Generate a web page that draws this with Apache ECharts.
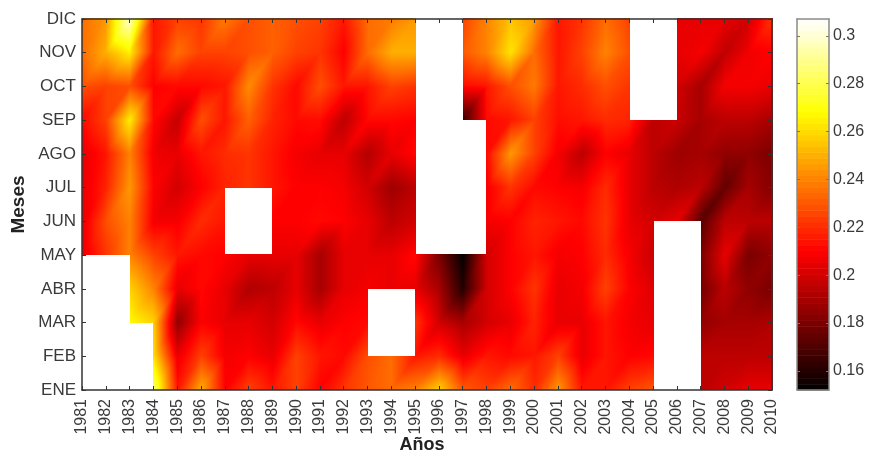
<!DOCTYPE html>
<html><head><meta charset="utf-8">
<style>html,body{margin:0;padding:0;background:#fff}#c{width:869px;height:452px}</style>
<script src="https://cdn.jsdelivr.net/npm/echarts@6/dist/echarts.min.js"></script>
</head><body><div id="c"></div>
<script>
const years = [1981,1982,1983,1984,1985,1986,1987,1988,1989,1990,1991,1992,1993,1994,1995,1996,1997,1998,1999,2000,2001,2002,2003,2004,2005,2006,2007,2008,2009,2010];
const months = ['ENE','FEB','MAR','ABR','MAY','JUN','JUL','AGO','SEP','OCT','NOV','DIC'];
const colorTicks = [0.16,0.18,0.2,0.22,0.24,0.26,0.28,0.3];
const N = null;
const ENE = [N,N,N,.285,.215,.250,.210,.225,.215,.225,.210,.222,.230,.235,.240,.258,.230,.225,.235,.220,.245,.215,.215,.225,.230,.200,.195,.200,.205,.205];
const FEB = [N,N,N,.262,.205,.225,.208,.210,.205,.225,.215,.212,.228,.235,.215,.220,.205,.215,.212,.215,.225,.205,.215,.210,.212,N,.195,.195,.195,.195];
const MAR = [N,N,.268,.258,.185,.210,.205,.205,.200,.212,.205,.210,.212,N,.222,.200,.190,.200,.205,.218,.205,.205,.215,.208,.205,N,.185,.190,.190,.192];
const ABR = [N,N,.258,.240,.205,.212,.205,.192,.195,.205,.190,.205,.208,.205,.205,.190,.160,.200,.210,.222,.205,.208,.225,.210,.203,N,.178,.195,.185,.180];
const MAY = [.205,.222,.240,.225,.215,.212,.210,.205,.205,.205,.190,.205,.205,.205,.212,.180,.152,.200,.210,.215,.208,.210,.220,.208,.198,N,.180,.205,.180,.185];
const JUN = [.205,.228,.240,.208,.208,.220,.215,N,.210,.210,.212,.210,.205,.195,.200,N,N,.208,.210,.218,.215,.212,.222,.205,.200,.205,.172,.195,.195,.195];
const JUL = [.205,.218,.245,.210,.200,.210,.218,.222,.215,.210,.210,.208,.200,.188,.195,N,N,.208,.222,.212,.210,.208,.220,.205,.195,.192,.195,.175,.190,.182];
const AGO = [.205,.215,.240,.207,.205,.215,.220,.222,.215,.208,.205,.205,.193,.205,.212,N,N,.212,.245,.225,.208,.195,.210,.205,.195,.188,.190,.185,.185,.180];
const SEP = [.212,.225,.265,.212,.197,.228,.215,.232,.218,.212,.213,.195,.212,.212,.210,N,.165,.212,.215,.225,.213,.215,.220,.218,.195,.198,.190,.195,.195,.190];
const OCT = [.228,.225,.228,.210,.212,.212,.215,.242,.222,.212,.228,.215,.215,.225,.222,N,.212,.215,.228,.238,.215,.220,.228,.222,N,.200,.190,.208,.208,.205];
const NOV = [.235,.250,.265,.215,.235,.225,.225,.228,.232,.225,.222,.210,.235,.250,.250,N,.230,.240,.262,.235,.215,.225,.240,.228,N,.205,.208,.196,.207,.210];
const DIC = [.235,.245,.300,.215,.225,.222,.238,.228,.232,.228,.225,.215,.235,.238,.245,.240,.225,.240,.255,.245,.215,.222,.235,.225,.220,.205,.205,.205,.200,.222];
const rows = [ENE,FEB,MAR,ABR,MAY,JUN,JUL,AGO,SEP,OCT,NOV,DIC];
const vMin = 0.152, vMax = 0.307, levels = 64;

function hot(v){
  const t = Math.max(0, Math.min(1, (v - vMin) / (vMax - vMin)));
  const c = x => Math.round(255 * Math.max(0, Math.min(1, x)));
  return [c(t / 0.375), c((t - 0.375) / 0.375), c((t - 0.75) / 0.25)];
}
const quads = [];
for (let j = 0; j < months.length - 1; j++) for (let i = 0; i < years.length - 1; i++) {
  const a = rows[j][i], b = rows[j][i+1], c = rows[j+1][i], d = rows[j+1][i+1];
  if (a !== N && b !== N && c !== N && d !== N) quads.push([i, j, a, b, c, d]);
}
function quadItem(params, api){
  const i = api.value(0), j = api.value(1);
  const z00 = api.value(2), z10 = api.value(3), z01 = api.value(4), z11 = api.value(5);
  const p0 = api.coord([i, j]), p1 = api.coord([i + 1, j + 1]);
  const w = p1[0] - p0[0], h = p0[1] - p1[1];
  const W = Math.ceil(w) + 1, H = Math.ceil(h) + 1;
  const cv = document.createElement('canvas'); cv.width = W; cv.height = H;
  const ctx = cv.getContext('2d'), im = ctx.createImageData(W, H);
  for (let y = 0; y < H; y++) for (let x = 0; x < W; x++) {
    const u = (x + 0.5) / W, s = 1 - (y + 0.5) / H;
    const v = u > s ? z00 + u * (z10 - z00) + s * (z11 - z10) : z00 + s * (z01 - z00) + u * (z11 - z01);
    const col = hot(v), k = (y * W + x) * 4;
    im.data[k] = col[0]; im.data[k+1] = col[1]; im.data[k+2] = col[2]; im.data[k+3] = 255;
  }
  ctx.putImageData(im, 0, 0);
  return {type: 'image', silent: true, style: {image: cv, x: p0[0], y: p1[1] - 0.6, width: w + 0.6, height: h + 0.6}};
}
const barData = [];
for (let k = 0; k < levels; k++) barData.push([vMin + (vMax - vMin) * k / levels, vMin + (vMax - vMin) * (k + 1) / levels]);
function barItem(params, api){
  const lo = api.value(0), hi = api.value(1);
  const a = api.coord([0, lo]), b = api.coord([1, hi]);
  return {type: 'rect', silent: true, shape: {x: a[0], y: b[1], width: b[0] - a[0], height: a[1] - b[1] + 0.5},
    style: {fill: 'rgb(' + hot((lo + hi) / 2).join(',') + ')'}};
}
const ink = '#3a3a3a', font = 'Liberation Sans';
const line = {show: true, onZero: false, lineStyle: {color: '#333', width: 1.5}};
const tick = {show: true, inside: true, length: 4, lineStyle: {color: '#333', width: 1}};
const cbLine = {show: true, onZero: false, lineStyle: {color: '#8a8a8a', width: 1.5}};
const cbTick = {show: true, inside: true, length: 3, customValues: colorTicks, lineStyle: {color: '#777', width: 1}};
const chart = echarts.init(document.getElementById('c'), null, {renderer: 'canvas'});
chart.setOption({
  animation: false,
  backgroundColor: '#fff',
  grid: [
    {left: 82, top: 19, width: 690, height: 371, outerBoundsMode: 'none', containLabel: false},
    {left: 797, top: 19, width: 32, height: 371, outerBoundsMode: 'none', containLabel: false}
  ],
  xAxis: [
    {type: 'category', gridIndex: 0, data: years, boundaryGap: false, position: 'bottom', z: 5,
     axisLine: line, axisTick: {...tick, interval: 0}, splitLine: {show: false},
     axisLabel: {interval: 0, rotate: 90, margin: 9, fontSize: 16, fontFamily: font, color: ink},
     name: 'Años', nameLocation: 'middle', nameGap: 46, nameMoveOverlap: false,
     nameTextStyle: {fontSize: 18, fontWeight: 'bold', fontFamily: font, color: '#222', padding: [0, 10, 0, 0]}},
    {type: 'category', gridIndex: 0, data: years, boundaryGap: false, position: 'top', z: 5,
     axisLine: line, axisTick: {...tick, interval: 0}, axisLabel: {show: false}, splitLine: {show: false}},
    {type: 'value', gridIndex: 1, min: 0, max: 1, position: 'bottom', z: 5, axisLine: cbLine, axisTick: {show: false}, axisLabel: {show: false}, splitLine: {show: false}},
    {type: 'value', gridIndex: 1, min: 0, max: 1, position: 'top', z: 5, axisLine: cbLine, axisTick: {show: false}, axisLabel: {show: false}, splitLine: {show: false}}
  ],
  yAxis: [
    {type: 'category', gridIndex: 0, data: months, boundaryGap: false, position: 'left', z: 5,
     axisLine: line, axisTick: {...tick, interval: 0}, splitLine: {show: false},
     axisLabel: {interval: 0, margin: 6, fontSize: 17, fontFamily: font, color: ink},
     name: 'Meses', nameLocation: 'middle', nameGap: 54, nameRotate: 90, nameMoveOverlap: false,
     nameTextStyle: {fontSize: 19, fontWeight: 'bold', fontFamily: font, color: '#222'}},
    {type: 'category', gridIndex: 0, data: months, boundaryGap: false, position: 'right', z: 5,
     axisLine: line, axisTick: {...tick, interval: 0}, axisLabel: {show: false}, splitLine: {show: false}},
    {type: 'value', gridIndex: 1, min: vMin, max: vMax, position: 'right', z: 5, axisLine: cbLine, axisTick: cbTick, splitLine: {show: false},
     axisLabel: {customValues: colorTicks, margin: 4, fontSize: 16, fontFamily: font, color: ink, formatter: v => String(+v.toFixed(2))}},
    {type: 'value', gridIndex: 1, min: vMin, max: vMax, position: 'left', z: 5, axisLine: cbLine, axisTick: cbTick, axisLabel: {show: false}, splitLine: {show: false}}
  ],
  series: [
    {type: 'custom', xAxisIndex: 0, yAxisIndex: 0, data: quads, renderItem: quadItem, clip: false, encode: {x: 0, y: 1}, silent: true},
    {type: 'custom', xAxisIndex: 2, yAxisIndex: 2, data: barData, renderItem: barItem, encode: {y: [0, 1]}, silent: true}
  ]
});
</script></body></html>
